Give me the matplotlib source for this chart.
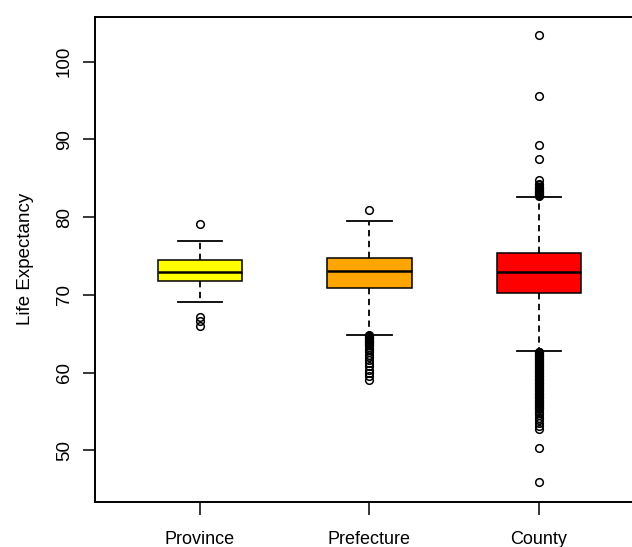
import matplotlib
matplotlib.use("Agg")
import matplotlib.pyplot as plt

plt.rcParams['font.family'] = ['Liberation Sans', 'DejaVu Sans']

categories = ["Province", "Prefecture", "County"]
box_colors = ["#FFFF00", "#FFA500", "#FF0000"]

q1 = [71.8, 70.9, 70.3]
median = [72.9, 73.1, 72.9]
q3 = [74.5, 74.7, 75.4]
whisker_low = [69.1, 64.9, 62.8]
whisker_high = [77.0, 79.5, 82.6]

fliers_province = [79.1, 67.1, 66.6, 66.0]
fliers_prefecture = [80.9, 64.8, 64.7, 64.6, 64.5, 64.4, 64.3, 64.2, 64.1, 64.0,
                     63.9, 63.8, 63.7, 63.6, 63.5, 63.3, 63.1, 62.9, 62.6, 62.3,
                     62.0, 61.6, 61.2, 60.8, 60.4, 60.0, 59.6, 59.1]
fliers_county = [103.4, 95.6, 89.3, 87.5, 84.8, 84.3, 84.1, 83.9, 83.8, 83.7,
                 83.6, 83.5, 83.4, 83.3, 83.2, 83.1, 83.0, 82.9, 82.8, 82.7,
                 62.7, 62.6, 62.5, 62.4, 62.3, 62.2, 62.1, 62.0, 61.9, 61.8,
                 61.7, 61.6, 61.5, 61.4, 61.3, 61.2, 61.1, 61.0, 60.9, 60.8,
                 60.7, 60.6, 60.5, 60.4, 60.3, 60.2, 60.1, 60.0, 59.9, 59.8,
                 59.7, 59.6, 59.5, 59.4, 59.3, 59.2, 59.1, 59.0, 58.9, 58.8,
                 58.7, 58.6, 58.5, 58.4, 58.3, 58.2, 58.1, 58.0, 57.9, 57.8,
                 57.7, 57.6, 57.5, 57.4, 57.3, 57.2, 57.1, 57.0, 56.9, 56.8,
                 56.7, 56.6, 56.5, 56.4, 56.3, 56.2, 56.1, 56.0, 55.9, 55.8,
                 55.7, 55.6, 55.5, 55.4, 55.3, 55.1, 54.8, 54.5, 54.2, 53.9,
                 53.5, 53.1, 52.7, 50.3, 45.9]
fliers = [fliers_province, fliers_prefecture, fliers_county]

yticks = [50, 60, 70, 80, 90, 100]

fig = plt.figure(figsize=(6.32, 5.47), dpi=100)
ax = fig.add_axes([95/632, 1 - 502/547, (644 - 95)/632, (502 - 16.7)/547])

stats = []
for i, name in enumerate(categories):
    stats.append(dict(label=name, med=median[i], q1=q1[i], q3=q3[i],
                      whislo=whisker_low[i], whishi=whisker_high[i],
                      fliers=fliers[i]))

bp = ax.bxp(stats, positions=[1, 2, 3], widths=0.5, patch_artist=True,
            showfliers=True,
            boxprops=dict(edgecolor="black", linewidth=1.1),
            medianprops=dict(color="black", linewidth=1.8),
            whiskerprops=dict(color="black", linewidth=1.3, linestyle=(0, (3.5, 2.5))),
            capprops=dict(color="black", linewidth=1.3),
            capwidths=0.26,
            flierprops=dict(marker="o", markerfacecolor="none",
                            markeredgecolor="black", markersize=5.5,
                            markeredgewidth=1.1))
for patch, c in zip(bp["boxes"], box_colors):
    patch.set_facecolor(c)

ax.set_xlim(0.38, 3.62)
ax.set_ylim(43.35, 105.8)
ax.set_yticks(yticks)
ax.set_yticklabels([str(v) for v in yticks], rotation=90, va="center", fontsize=13.5)
ax.set_xticks([1, 2, 3])
ax.set_xticklabels(categories, fontsize=13)
ax.tick_params(axis="both", length=9, width=1.1, direction="out")
ax.tick_params(axis="y", pad=7)
ax.tick_params(axis="x", pad=12)
ax.set_ylabel("Life Expectancy", fontsize=13.5, labelpad=16)

for s in ["left", "bottom", "top", "right"]:
    ax.spines[s].set_linewidth(1.4)

fig.savefig("out.png", dpi=100)
